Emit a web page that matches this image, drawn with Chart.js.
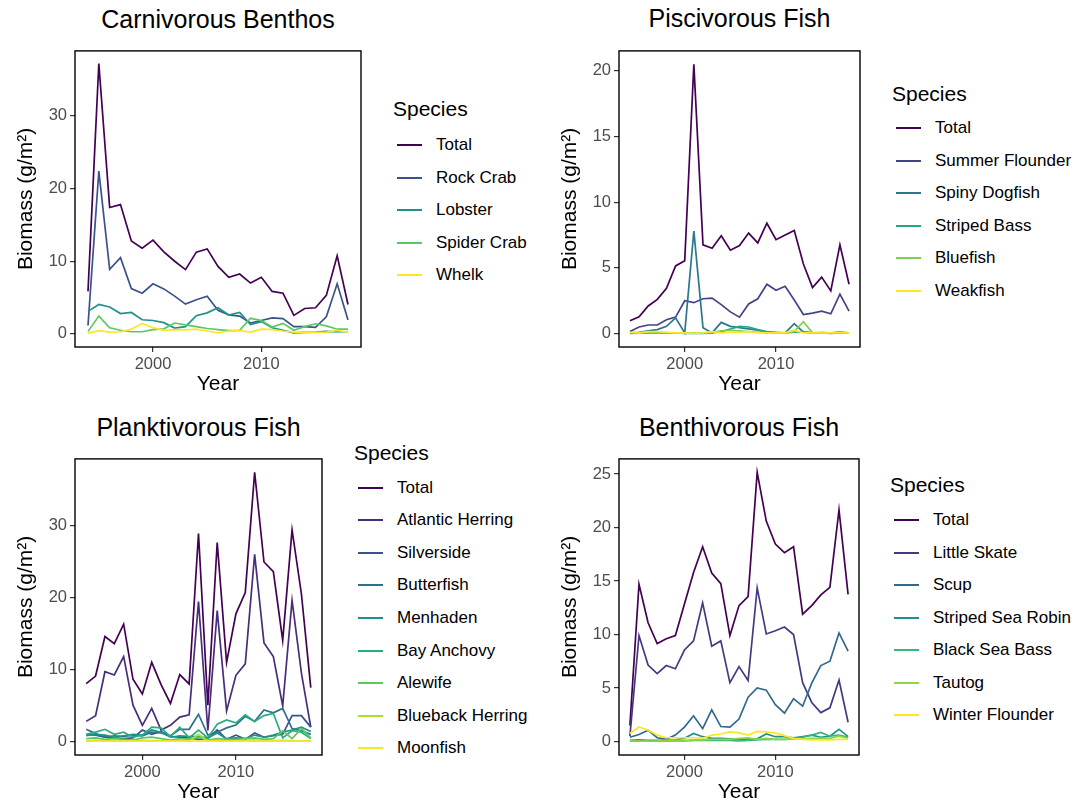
<!DOCTYPE html>
<html>
<head>
<meta charset="utf-8">
<script src="https://cdn.jsdelivr.net/npm/chart.js@4.4.1/dist/chart.umd.min.js"></script>
<style>
  body { margin: 0; width: 1076px; height: 806px; background: #fff; position: relative; overflow: hidden;
         font-family: "Liberation Sans", Arial, sans-serif; }
  canvas, .txt, .key { position: absolute; }
  .txt { white-space: nowrap; color: #000; }
</style>
</head>
<body>
<script>
const years = [1994, 1995, 1996, 1997, 1998, 1999, 2000, 2001, 2002, 2003, 2004, 2005, 2006,
  2007, 2008, 2009, 2010, 2011, 2012, 2013, 2014, 2015, 2016, 2017, 2018];
const xTicks = [2000, 2010];

// carnivorous benthos
const cbNames = [`Total`, `Rock Crab`, `Lobster`, `Spider Crab`, `Whelk`];
const cbTotal = [5.85, 37.2, 17.4, 17.8, 12.8, 11.8, 12.9, 11.3, 10.0, 8.85, 11.25, 11.7, 9.3, 7.8, 8.25, 7.0, 7.8, 5.85, 5.6, 2.55, 3.5, 3.6, 5.3, 10.75, 4.05];
const cbRockCrab = [1.15, 22.4, 8.9, 10.5, 6.25, 5.6, 6.9, 6.2, 5.2, 4.1, 4.7, 5.2, 3.25, 2.6, 2.45, 1.5, 1.85, 2.2, 2.1, 1.0, 1.0, 0.9, 2.35, 6.9, 1.9];
const cbLobster = [3.1, 4.05, 3.7, 2.8, 2.95, 1.95, 1.85, 1.55, 0.8, 1.0, 2.5, 2.9, 3.6, 2.6, 2.95, 1.3, 1.7, 0.85, 0.5, 0.15, 0.2, 0.25, 0.35, 0.3, 0.3];
const cbSpiderCrab = [0.35, 2.45, 0.85, 0.5, 0.3, 0.3, 0.6, 0.7, 1.5, 1.25, 1.0, 0.75, 0.6, 0.45, 0.5, 2.15, 1.85, 0.95, 1.45, 0.5, 1.0, 1.4, 1.1, 0.65, 0.65];
const cbWhelk = [0.1, 0.45, 0.25, 0.3, 0.65, 1.45, 0.85, 0.5, 0.6, 0.55, 0.65, 0.4, 0.15, 0.4, 0.45, 0.25, 0.65, 0.6, 0.4, 0.25, 0.2, 0.2, 0.25, 0.5, 0.25];
const cbTicks = [0, 10, 20, 30];

// piscivorous fish
const pfNames = [`Total`, `Summer Flounder`, `Spiny Dogfish`, `Striped Bass`, `Bluefish`, `Weakfish`];
const pfTotal = [0.98, 1.28, 2.1, 2.6, 3.45, 5.15, 5.55, 20.5, 6.75, 6.5, 7.45, 6.35, 6.7, 7.65, 6.9, 8.4, 7.15, 7.5, 7.85, 5.3, 3.5, 4.3, 3.25, 6.75, 3.75];
const pfSummerFlounder = [0.15, 0.5, 0.65, 0.65, 1.05, 1.25, 2.5, 2.35, 2.65, 2.7, 2.2, 1.65, 1.25, 2.25, 2.65, 3.75, 3.3, 3.6, 2.55, 1.45, 1.55, 1.7, 1.5, 3.0, 1.7];
const pfSpinyDogfish = [0.05, 0.1, 0.2, 0.3, 0.55, 1.2, 0.05, 7.8, 0.45, 0.05, 0.85, 0.55, 0.45, 0.35, 0.25, 0.1, 0.05, 0.05, 0.75, 0.1, 0.05, 0.05, 0.02, 0.05, 0.05];
const pfStripedBass = [0.02, 0.03, 0.05, 0.05, 0.05, 0.05, 0.02, 0.02, 0.02, 0.05, 0.15, 0.35, 0.55, 0.5, 0.3, 0.15, 0.1, 0.05, 0.1, 0.15, 0.05, 0.05, 0.05, 0.05, 0.05];
const pfBluefish = [0.05, 0.05, 0.1, 0.1, 0.05, 0.05, 0.05, 0.05, 0.05, 0.1, 0.2, 0.25, 0.2, 0.15, 0.1, 0.05, 0.05, 0.05, 0.15, 0.9, 0.05, 0.1, 0.05, 0.15, 0.05];
const pfWeakfish = [0.1, 0.05, 0.15, 0.15, 0.1, 0.05, 0.05, 0.02, 0.05, 0.15, 0.05, 0.1, 0.1, 0.15, 0.05, 0.05, 0.05, 0.05, 0.25, 0.05, 0.05, 0.05, 0.05, 0.05, 0.05];
const pfTicks = [0, 5, 10, 15, 20];

// planktivorous fish
const plNames = [`Total`, `Atlantic Herring`, `Silverside`, `Butterfish`, `Menhaden`, `Bay Anchovy`, `Alewife`, `Blueback Herring`, `Moonfish`];
const plTotal = [8.05, 9.1, 14.6, 13.6, 16.3, 8.65, 6.6, 11.0, 7.9, 5.3, 9.3, 8.0, 28.9, 5.05, 27.65, 11.0, 17.75, 20.7, 37.4, 24.95, 23.6, 14.05, 29.4, 20.5, 7.5];
const plAtlanticHerring = [2.8, 3.6, 9.7, 9.25, 11.8, 5.05, 2.25, 4.6, 1.6, 2.25, 3.4, 3.7, 19.45, 1.55, 18.2, 4.25, 9.2, 10.8, 26.0, 13.7, 11.8, 4.95, 19.6, 9.5, 2.0];
const plSilverside = [1.0, 0.9, 0.6, 0.5, 0.4, 0.5, 1.6, 1.0, 1.4, 0.7, 0.6, 0.5, 0.3, 0.4, 1.6, 0.3, 0.9, 0.3, 1.2, 0.6, 0.8, 1.0, 3.6, 3.6, 2.0];
const plButterfish = [1.7, 1.1, 0.6, 0.8, 0.7, 0.9, 0.8, 1.3, 1.2, 0.8, 1.7, 1.7, 3.8, 0.9, 1.3, 1.9, 2.3, 3.5, 2.8, 4.4, 4.0, 4.6, 1.8, 1.5, 1.0];
const plMenhaden = [0.8, 1.0, 0.9, 0.6, 0.8, 1.0, 0.9, 1.6, 1.3, 0.6, 0.8, 0.7, 0.7, 0.5, 1.2, 0.4, 0.5, 0.4, 0.9, 0.6, 0.9, 1.3, 1.6, 2.0, 1.4];
const plBayAnchovy = [1.0, 1.3, 1.7, 1.0, 1.3, 0.6, 0.9, 2.0, 1.9, 0.7, 2.0, 0.5, 1.6, 0.5, 2.4, 3.0, 2.6, 3.7, 2.8, 3.6, 3.9, 0.5, 1.5, 1.3, 0.4];
const plAlewife = [0.4, 0.5, 0.3, 0.4, 0.3, 0.2, 0.5, 0.6, 0.4, 0.2, 0.4, 0.3, 0.6, 0.2, 0.4, 0.3, 0.3, 0.4, 0.5, 0.3, 0.4, 1.5, 0.4, 1.8, 0.5];
const plBluebackHerring = [0.1, 0.15, 0.1, 0.1, 0.1, 0.1, 0.15, 0.1, 0.1, 0.1, 0.15, 0.1, 1.0, 0.1, 0.15, 0.1, 0.1, 0.15, 0.2, 0.1, 0.1, 0.15, 0.1, 0.1, 0.1];
const plMoonfish = [0.05, 0.05, 0.05, 0.05, 0.05, 0.05, 0.05, 0.05, 0.05, 0.05, 0.05, 0.05, 0.05, 0.05, 0.05, 0.05, 0.05, 0.05, 0.05, 0.05, 0.05, 0.05, 0.05, 0.05, 0.05];
const plTicks = [0, 10, 20, 30];

// benthivorous fish
const bfNames = [`Total`, `Little Skate`, `Scup`, `Striped Sea Robin`, `Black Sea Bass`, `Tautog`, `Winter Flounder`];
const bfTotal = [1.5, 14.7, 11.1, 9.15, 9.6, 9.9, 12.85, 15.8, 18.2, 15.75, 14.75, 9.9, 12.7, 13.55, 25.15, 20.6, 18.45, 17.65, 18.2, 11.9, 12.7, 13.7, 14.4, 21.65, 13.75];
const bfLittleSkate = [0.5, 9.9, 7.15, 6.35, 7.1, 6.8, 8.55, 9.4, 12.95, 8.9, 9.4, 5.5, 7.0, 5.7, 14.35, 10.05, 10.35, 10.7, 10.0, 5.5, 3.65, 2.7, 3.15, 5.75, 1.8];
const bfScup = [0.4, 0.65, 1.05, 0.35, 0.2, 0.6, 1.35, 2.4, 1.2, 2.95, 1.4, 1.35, 2.1, 4.15, 5.0, 4.8, 3.45, 2.65, 4.0, 3.3, 5.45, 7.1, 7.5, 10.15, 8.45];
const bfStripedSeaRobin = [0.1, 0.15, 0.1, 0.1, 0.1, 0.15, 0.3, 0.75, 0.45, 0.3, 0.3, 0.25, 0.2, 0.25, 0.25, 0.7, 0.45, 0.45, 0.35, 0.45, 0.6, 0.4, 0.5, 1.15, 0.45];
const bfBlackSeaBass = [0.05, 0.05, 0.05, 0.05, 0.05, 0.05, 0.05, 0.1, 0.1, 0.1, 0.1, 0.1, 0.05, 0.1, 0.15, 0.2, 0.2, 0.2, 0.25, 0.4, 0.6, 0.85, 0.5, 0.6, 0.4];
const bfTautog = [0.05, 0.05, 0.05, 0.05, 0.1, 0.1, 0.1, 0.15, 0.15, 0.2, 0.2, 0.2, 0.3, 0.35, 0.2, 0.3, 0.2, 0.2, 0.25, 0.25, 0.3, 0.3, 0.3, 0.5, 0.3];
const bfWinterFlounder = [0.75, 1.35, 1.05, 0.6, 0.35, 0.35, 0.35, 0.35, 0.3, 0.6, 0.7, 0.9, 0.8, 0.6, 0.95, 0.9, 0.8, 0.55, 0.3, 0.2, 0.15, 0.15, 0.15, 0.2, 0.2];
const bfTicks = [0, 5, 10, 15, 20, 25];

// viridis palettes, one per panel size
const viridis5 = [`#440154`, `#3B528B`, `#21908C`, `#5DC863`, `#FDE725`];
const viridis6 = [`#440154`, `#414487`, `#2A788E`, `#22A884`, `#7AD151`, `#FDE725`];
const viridis7 = [`#440154`, `#443A83`, `#31688E`, `#21908C`, `#35B779`, `#8FD744`, `#FDE725`];
const viridis9 = [`#440154`, `#472D7B`, `#3B528B`, `#2C728E`, `#21908C`, `#27AD81`, `#5DC863`, `#AADC32`, `#FDE725`];

const AXIS_W = 75;
const AXIS_H = 50;
const PAD = 5;
const FONT = `"Liberation Sans", Arial, sans-serif`;

const panels = [
  {
    title: `Carnivorous Benthos`, titleY: 19, names: cbNames, colors: viridis5,
    series: [cbTotal, cbRockCrab, cbLobster, cbSpiderCrab, cbWhelk],
    yMin: -1.8, yMax: 38.95, yTicks: cbTicks,
    box: { left: 75, top: 43, right: 361, bottom: 347 },
    legend: { x: 393, y: 108, keyX: 397, labelX: 436, firstY: 145, step: 32.5 },
  },
  {
    title: `Piscivorous Fish`, titleY: 18, names: pfNames, colors: viridis6,
    series: [pfTotal, pfSummerFlounder, pfSpinyDogfish, pfStripedBass, pfBluefish, pfWeakfish],
    yMin: -1.025, yMax: 21.525, yTicks: pfTicks,
    box: { left: 619, top: 43, right: 860, bottom: 347 },
    legend: { x: 892, y: 93, keyX: 896, labelX: 935, firstY: 128, step: 32.6 },
  },
  {
    title: `Planktivorous Fish`, titleY: 427, names: plNames, colors: viridis9,
    series: [plTotal, plAtlanticHerring, plSilverside, plButterfish, plMenhaden, plBayAnchovy, plAlewife, plBluebackHerring, plMoonfish],
    yMin: -1.87, yMax: 39.27, yTicks: plTicks,
    box: { left: 75, top: 451, right: 322, bottom: 755 },
    legend: { x: 354, y: 452, keyX: 358, labelX: 397, firstY: 487.5, step: 32.6 },
  },
  {
    title: `Benthivorous Fish`, titleY: 427, names: bfNames, colors: viridis7,
    series: [bfTotal, bfLittleSkate, bfScup, bfStripedSeaRobin, bfBlackSeaBass, bfTautog, bfWinterFlounder],
    yMin: -1.26, yMax: 26.41, yTicks: bfTicks,
    box: { left: 619, top: 451, right: 859, bottom: 755 },
    legend: { x: 890, y: 484, keyX: 894, labelX: 933, firstY: 520, step: 32.5 },
  },
];

// black panel border, like ggplot's panel.border
const frame = {
  id: `frame`,
  afterDatasetsDraw(chart) {
    const { ctx, chartArea: a } = chart;
    ctx.save();
    ctx.strokeStyle = `#000`;
    ctx.lineWidth = 1.4;
    ctx.strokeRect(a.left, a.top, a.right - a.left, a.bottom - a.top);
    ctx.restore();
  },
};

function addText(str, left, centerY, size, extra = {}) {
  const el = document.createElement(`div`);
  el.className = `txt`;
  el.textContent = str;
  const lh = Math.round(size * 1.2);
  Object.assign(el.style, {
    left: `${left}px`, top: `${centerY - lh / 2}px`,
    fontSize: `${size}px`, lineHeight: `${lh}px`, ...extra,
  });
  document.body.appendChild(el);
  return el;
}

function axisStyle(ticks, min, max, size) {
  return {
    type: `linear`, min, max,
    afterBuildTicks: (s) => { s.ticks = ticks.map((value) => ({ value })); },
    afterFit: size,
    border: { display: false },
    grid: { drawOnChartArea: false, drawTicks: true, tickLength: 5, color: `#333`, lineWidth: 1.2 },
    ticks: {
      autoSkip: false, maxRotation: 0, padding: 3, color: `#4d4d4d`,
      font: { family: FONT, size: 16.5 },
      callback: (v) => String(v),
    },
  };
}

function makePanel(p) {
  const w = p.box.right - p.box.left;
  const h = p.box.bottom - p.box.top;
  const canvas = document.createElement(`canvas`);
  canvas.width = AXIS_W + w + PAD;
  canvas.height = PAD + h + AXIS_H;
  canvas.style.left = `${p.box.left - AXIS_W}px`;
  canvas.style.top = `${p.box.top - PAD}px`;
  document.body.appendChild(canvas);

  const x = axisStyle(xTicks, 1992.8, 2019.2, (s) => { s.height = AXIS_H; });
  x.title = { display: true, text: `Year`, color: `#000`, font: { family: FONT, size: 21 }, padding: { top: 0, bottom: 0 } };
  const y = axisStyle(p.yTicks, p.yMin, p.yMax, (s) => { s.width = AXIS_W; });
  y.title = { display: true, text: `Biomass (g/m²)`, color: `#000`, font: { family: FONT, size: 21 }, padding: { top: 14, bottom: 0 } };

  new Chart(canvas, {
    type: `line`,
    data: {
      datasets: p.names.map((name, i) => ({
        label: name,
        data: years.map((yr, j) => ({ x: yr, y: p.series[i][j] })),
        borderColor: p.colors[i],
        borderWidth: 1.7,
        pointRadius: 0,
        tension: 0,
        order: p.names.length - i, // later species drawn on top, as in ggplot
      })),
    },
    options: {
      responsive: false,
      animation: false,
      devicePixelRatio: 1,
      layout: { padding: { top: PAD, right: PAD, left: 0, bottom: 0 } },
      plugins: { legend: { display: false }, tooltip: { enabled: false } },
      scales: { x, y },
    },
    plugins: [frame],
  });

  // title centred over the panel
  addText(p.title, p.box.left, p.titleY, 25, { width: `${w}px`, textAlign: `center` });

  // legend
  const lg = p.legend;
  addText(`Species`, lg.x, lg.y, 21);
  p.names.forEach((name, i) => {
    const cy = lg.firstY + i * lg.step;
    const key = document.createElement(`div`);
    key.className = `key`;
    Object.assign(key.style, { left: `${lg.keyX}px`, top: `${cy - 1}px`, width: `25px`, height: `2px`, background: p.colors[i] });
    document.body.appendChild(key);
    addText(name, lg.labelX, cy, 17);
  });
}

panels.forEach(makePanel);
</script>
</body>
</html>
